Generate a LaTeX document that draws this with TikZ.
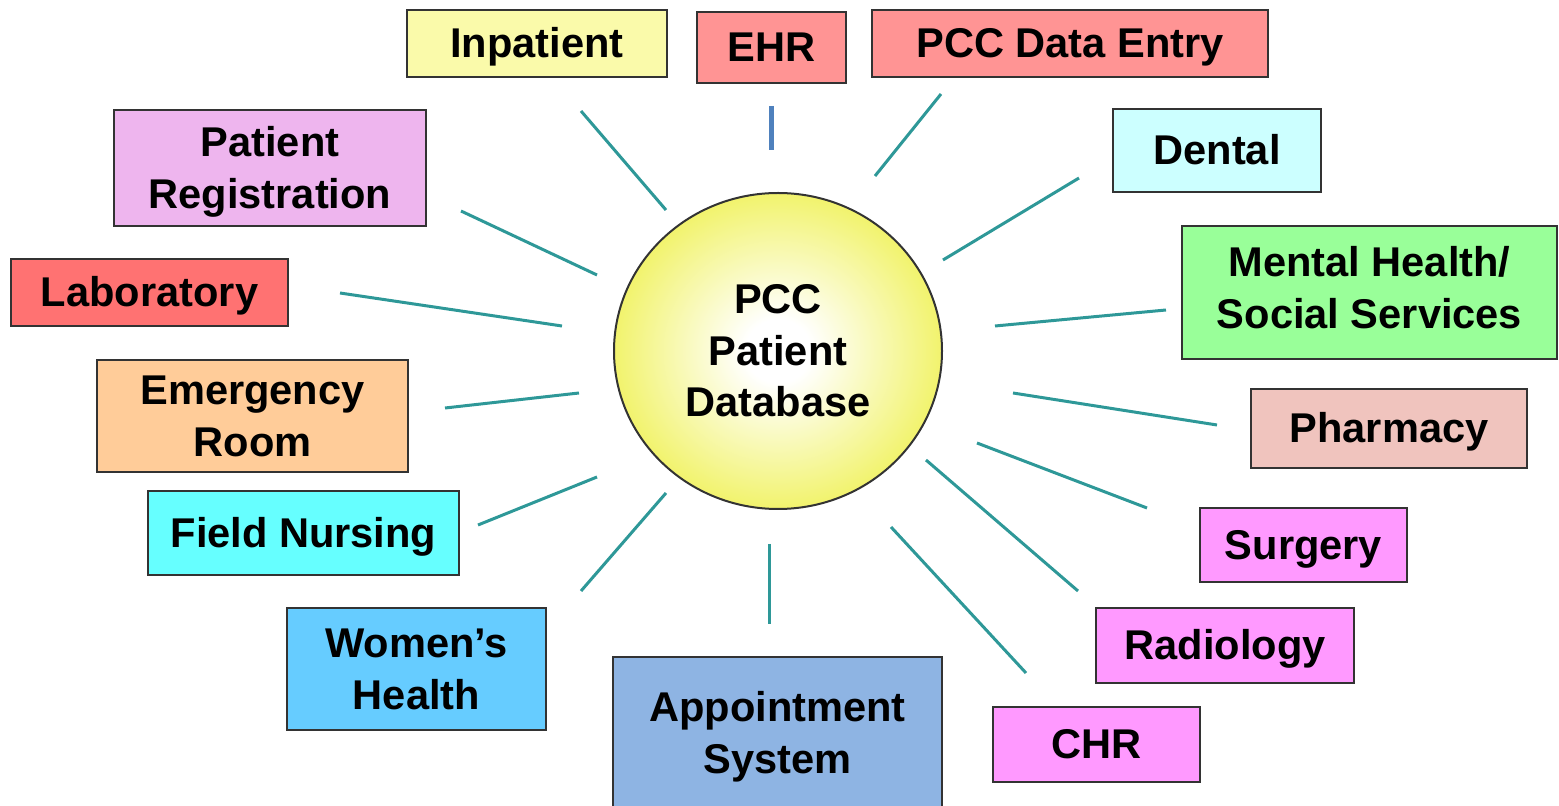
\documentclass[tikz,border=0pt]{standalone}
\usepackage{fontspec}
\setmainfont{Liberation Sans}
\usetikzlibrary{shapes.geometric}
\definecolor{cInpat}{HTML}{FAFAAA}
\definecolor{cSalmon}{HTML}{FF9494}
\definecolor{cLab}{HTML}{FF7272}
\definecolor{cReg}{HTML}{EEB5EE}
\definecolor{cDental}{HTML}{CCFFFF}
\definecolor{cMental}{HTML}{99FF99}
\definecolor{cER}{HTML}{FFCC99}
\definecolor{cPharm}{HTML}{F0C4BE}
\definecolor{cField}{HTML}{66FFFF}
\definecolor{cMagenta}{HTML}{FF99FF}
\definecolor{cWomen}{HTML}{66CCFF}
\definecolor{cAppt}{HTML}{8EB4E3}
\definecolor{cBall}{HTML}{EEF048}
\definecolor{cSpoke}{HTML}{2E9898}
\definecolor{cEHR}{HTML}{4F81BD}
\definecolor{cEdge}{HTML}{333333}
\pgfdeclareradialshading{ball}{\pgfpoint{0bp}{0bp}}{color(0bp)=(white); color(5bp)=(white); color(30bp)=(cBall); color(50bp)=(cBall)}
\newcommand\pptstrut{\rule[-4.4pt]{0pt}{23pt}}
\newcommand\brk{\\\pptstrut}
\newcommand\deepstrut{\rule[-8.4pt]{0pt}{27pt}}
\tikzset{
  sysbox/.style 2 args={draw=cEdge, line width=1pt, inner sep=0pt,
    minimum width=#1*0.5pt, minimum height=#2*0.5pt, align=center,
    font=\fontsize{20.8}{26}\selectfont\bfseries},
  spoke/.style={draw=cSpoke, line width=1.5pt},
  ehrspoke/.style={draw=cEHR, line width=2.5pt},
}
\begin{document}
\begin{tikzpicture}[x=0.5pt, y=-0.5pt]
\useasboundingbox (0,0) rectangle (1559,806);
\clip (0,0) rectangle (1559,806);
% central database
\node[ellipse, draw=cEdge, line width=1pt, shading=ball, minimum width=164pt, minimum height=158pt, inner sep=0pt, align=center, font=\fontsize{20.8}{25.7}\selectfont\bfseries] (db) at (778,351) {PCC\\Patient\\Database};
% boxes
\node[sysbox={260}{67}, fill=cInpat] (inpat) at (537,43.5) {\pptstrut Inpatient};
\node[sysbox={149}{71}, fill=cSalmon] (ehr) at (771.5,47.5) {\pptstrut EHR};
\node[sysbox={396}{67}, fill=cSalmon] (pccde) at (1070,43.5) {\pptstrut PCC Data Entry};
\node[sysbox={312}{116}, fill=cReg] (reg) at (270,168) {\pptstrut Patient\brk Registration};
\node[sysbox={208}{83}, fill=cDental] (dental) at (1217,150.5) {\pptstrut Dental};
\node[sysbox={277}{67}, fill=cLab] (lab) at (149.5,292.5) {\pptstrut Laboratory};
\node[sysbox={375}{133}, fill=cMental] (mental) at (1369.5,292.5) {\pptstrut Mental Health/\\\deepstrut Social Services};
\node[sysbox={311}{112}, fill=cER] (er) at (252.5,416) {\pptstrut Emergency\brk Room};
\node[sysbox={276}{79}, fill=cPharm] (pharm) at (1389,428.5) {\pptstrut Pharmacy};
\node[sysbox={311}{84}, fill=cField] (field) at (303.5,533) {\pptstrut Field Nursing};
\node[sysbox={207}{74}, fill=cMagenta] (surg) at (1303.5,545) {\pptstrut Surgery};
\node[sysbox={259}{122}, fill=cWomen] (women) at (416.5,669) {\pptstrut Women’s\brk Health};
\node[sysbox={258}{75}, fill=cMagenta] (rad) at (1225,645.5) {\pptstrut Radiology};
\node[sysbox={329}{152}, fill=cAppt] (appt) at (777.5,733) {\pptstrut Appointment\brk System};
\node[sysbox={207}{75}, fill=cMagenta] (chr) at (1096.5,744.5) {\pptstrut CHR};
% spoke end points
\coordinate (a1) at (581,111);  \coordinate (b1) at (666,210);
\coordinate (a2) at (771,106);  \coordinate (b2) at (771,150);
\coordinate (a3) at (941,94);   \coordinate (b3) at (875,176);
\coordinate (a4) at (1079,178); \coordinate (b4) at (943,260);
\coordinate (a5) at (461,211);  \coordinate (b5) at (597,275);
\coordinate (a6) at (1166,310); \coordinate (b6) at (995,326);
\coordinate (a7) at (340,293);  \coordinate (b7) at (562,326);
\coordinate (a8) at (1013,393); \coordinate (b8) at (1217,425);
\coordinate (a9) at (445,408);  \coordinate (b9) at (579,393);
\coordinate (a10) at (977,443); \coordinate (b10) at (1147,508);
\coordinate (a11) at (478,525); \coordinate (b11) at (597,477);
\coordinate (a12) at (926,460); \coordinate (b12) at (1078,591);
\coordinate (a13) at (581,591); \coordinate (b13) at (666,493);
\coordinate (a14) at (891,527); \coordinate (b14) at (1026,673);
\coordinate (a15) at (769,544); \coordinate (b15) at (769,624);
% spokes
\draw[spoke] (a1) -- (b1);
\draw[ehrspoke] (a2) -- (b2);
\draw[spoke] (a3) -- (b3);
\draw[spoke] (a4) -- (b4);
\draw[spoke] (a5) -- (b5);
\draw[spoke] (a6) -- (b6);
\draw[spoke] (a7) -- (b7);
\draw[spoke] (a8) -- (b8);
\draw[spoke] (a9) -- (b9);
\draw[spoke] (a10) -- (b10);
\draw[spoke] (a11) -- (b11);
\draw[spoke] (a12) -- (b12);
\draw[spoke] (a13) -- (b13);
\draw[spoke] (a14) -- (b14);
\draw[spoke] (a15) -- (b15);
\end{tikzpicture}
\end{document}
